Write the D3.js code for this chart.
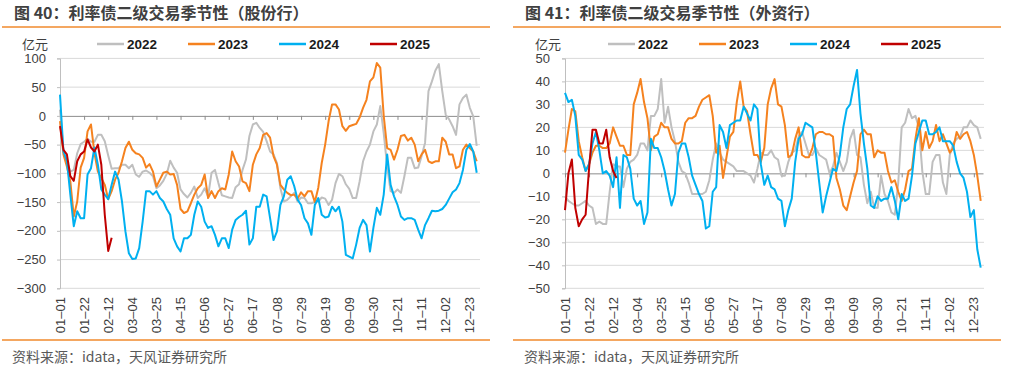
<!DOCTYPE html>
<html>
<head>
<meta charset="utf-8">
<script src="https://cdn.jsdelivr.net/npm/d3@7"></script>
<style>
  body { margin: 0; background: #fff; }
  svg { display: block; font-family: "Liberation Sans", Arial, "Noto Sans CJK SC", sans-serif; }
</style>
</head>
<body>
<svg width="1012" height="382"></svg>
<script>
// x categories: every 3rd day of the year (0 = 01-01)
var days = d3.range(0, 364, 3);
var tickLabels = ["01-01", "01-22", "02-12", "03-04", "03-25", "04-15", "05-06", "05-27", "06-17",
  "07-08", "07-29", "08-19", "09-09", "09-30", "10-21", "11-11", "12-02", "12-23"];
var years = ["2022", "2023", "2024", "2025"];
var colors = ["#BFBFBF", "#F5821F", "#00B0F0", "#C00000"];

// 股份行 (亿元)
var gfh2022 = [11, -62, -79, -97, -94, -65, -49, -45, -40, -45,
  -45, -33, -33, -44, -69, -92, -91, -91, -85, -85,
  -91, -85, -102, -106, -97, -95, -99, -105, -126, -121,
  -113, -101, -78, -90, -99, -128, -136, -142, -134, -123,
  -143, -137, -126, -140, -99, -94, -117, -138, -140, -142,
  -143, -124, -119, -94, -76, -35, -15, -12, -21, -28,
  -44, -62, -67, -82, -126, -149, -146, -140, -134, -149,
  -142, -143, -152, -152, -150, -149, -142, -144, -155, -146,
  -117, -101, -105, -119, -127, -143, -143, -114, -79, -62,
  -50, -27, -15, 17, -30, -88, -131, -134, -128, -134,
  -105, -73, -73, -91, -90, -70, -47, 43, 60, 79,
  90, 43, 2, -6, -18, -33, 20, 31, 37, 14,
  -1, -52];
var gfh2023 = [-9, -67, -88, -114, -175, -149, -90, -73, -27, -15,
  -65, -97, -108, -120, -145, -131, -111, -99, -79, -56,
  -45, -59, -65, -67, -73, -90, -84, -97, -123, -111,
  -99, -97, -102, -101, -120, -162, -169, -166, -152, -137,
  -126, -120, -102, -143, -131, -143, -131, -126, -128, -102,
  -62, -79, -88, -114, -117, -131, -85, -67, -56, -33,
  -30, -38, -70, -85, -120, -128, -134, -138, -137, -144,
  -133, -140, -131, -131, -150, -125, -82, -50, -9, 20,
  20, 11, -18, -26, -18, -16, -14, -3, 14, 28,
  60, 67, 92, 84, 0, -56, -59, -76, -59, -35,
  -33, -43, -38, -50, -79, -67, -59, -79, -82, -79,
  -79, -38, -45, -67, -67, -91, -88, -59, -50, -56,
  -62, -79];
var gfh2024 = [37, -62, -78, -137, -192, -166, -178, -178, -102, -91,
  -55, -85, -128, -137, -145, -120, -97, -111, -149, -201,
  -239, -249, -248, -230, -184, -131, -131, -137, -131, -143,
  -149, -162, -172, -213, -227, -236, -213, -213, -207, -172,
  -149, -158, -184, -195, -192, -207, -227, -213, -213, -230,
  -198, -181, -176, -172, -165, -224, -213, -158, -158, -137,
  -140, -178, -216, -201, -155, -140, -111, -105, -122, -146,
  -155, -178, -187, -207, -155, -143, -172, -177, -175, -158,
  -166, -158, -184, -242, -245, -248, -224, -195, -181, -190,
  -236, -195, -160, -172, -137, -67, -120, -140, -155, -175,
  -181, -178, -178, -181, -198, -213, -190, -178, -165, -166,
  -165, -162, -155, -144, -133, -128, -117, -94, -59, -49,
  -62, -99];
var gfh2025 = [-18, -59, -67, -105, -113, -79, -67, -62, -41, -55, -62, -50, -85, -172, -235, -212];

// 外资行 (亿元)
var wzh2022 = [-10, -12, -13, -14, -14, -13, -12, -14, -15, -22,
  -21, -22, -22, -8, 4, 3, 3, -6, 2, 5,
  6, 8, 13, 13, 10, 25, 25, 28, 41, 22,
  29, 20, 14, 5, 1, 0, -4, -9, -9, -9,
  -9, -8, -3, 6, 13, 9, 6, 5, 4, 3,
  1, 1, 1, 0, -1, -4, 2, 9, 8, 8,
  10, 7, 6, -1, -1, 5, 9, 10, 16, 18,
  13, 8, 8, 11, 8, 7, 6, 0, 3, 9,
  5, 1, 5, 15, 19, 8, 7, -5, -13, -8,
  -15, -15, -1, -9, -12, -17, -18, -4, 20, 22,
  28, 24, 25, 20, 1, -9, -9, 5, 8, 8,
  -4, -9, 8, 13, 15, 16, 20, 20, 23, 21,
  20, 15];
var wzh2023 = [9, 19, 28, 27, 14, 7, 1, 4, 9, 12,
  12, 11, 11, 13, 20, 16, 12, 12, 8, 8,
  30, 35, 41, 31, 24, 10, 16, 17, 22, 20,
  20, 15, 13, 13, 14, 22, 24, 24, 25, 29,
  32, 33, 34, 25, 9, 12, -2, 7, 16, 18,
  31, 40, 29, 27, 17, 8, 8, 5, 11, 30,
  37, 41, 30, 29, 21, 7, 8, 15, 20, 8,
  7, 7, 11, 17, 18, 18, 17, 17, 16, -2,
  -7, -14, -16, -10, -4, 1, 17, 19, 17, 17,
  7, 10, 9, 9, 1, -4, -3, -8, -12, -7,
  1, 2, 15, 24, 10, 18, 11, 14, 21, 14,
  17, 13, 9, 11, 18, 15, 17, 18, 14, 8,
  -1, -12];
var wzh2024 = [35, 31, 32, 25, 8, 6, 1, 4, 13, 18,
  10, 0, 1, -1, -6, 7, -15, 8, 7, 2,
  -11, -14, -12, -22, -17, 15, 11, 11, 7, 1,
  -7, -14, -9, 9, 13, 13, 7, -1, -5, -9,
  -12, -24, -23, -8, -6, 21, 18, 11, 21, 22,
  23, 23, 29, 26, 23, 30, 28, 4, -5, -1,
  -6, -7, -11, -12, -23, -16, -11, 5, 15, 17,
  22, 21, 20, 9, -4, -17, -10, -4, 2, 1,
  8, 20, 28, 30, 38, 45, 26, 13, 2, -14,
  -15, -10, -12, -11, -11, -6, -12, -20, -9, -12,
  -11, -1, 13, 18, 23, 23, 17, 17, 18, 20,
  14, 14, 14, 12, 5, 0, -2, -8, -19, -16,
  -33, -41];
var wzh2025 = [-16, 0, 6, -15, -23, -20, -18, 2, 19, 19, 13, 13, 19, 7, 1, -2];

var svg = d3.select("svg");

function drawPanel(p) {
  var x = d3.scaleLinear().domain([0, 365]).range([p.left, p.right]);
  var y = d3.scaleLinear().domain(p.domain).range([288.3, 58.4]);
  var g = svg.append("g");

  // title + orange rules
  svg.append("text").attr("x", p.titleX).attr("y", 18.5)
    .attr("font-family", "'Noto Sans CJK SC', sans-serif")
    .attr("font-size", "16px").attr("font-weight", "bold").attr("fill", "#404040")
    .text(p.title);
  [27, 340].forEach(function (yy) {
    svg.append("line").attr("x1", p.ruleX[0]).attr("x2", p.ruleX[1])
      .attr("y1", yy).attr("y2", yy).attr("stroke", "#F08A2C").attr("stroke-width", 1.5);
  });
  svg.append("text").attr("x", p.sourceX).attr("y", 362)
    .attr("font-family", "'Noto Sans CJK SC', sans-serif")
    .attr("font-size", "14px").attr("fill", "#595959")
    .text("资料来源：idata，天风证券研究所");

  // unit + legend
  svg.append("text").attr("x", p.unitX).attr("y", 49)
    .attr("font-family", "'Noto Sans CJK SC', sans-serif")
    .attr("font-size", "13px").attr("fill", "#404040").text("亿元");
  years.forEach(function (yr, i) {
    var lx = p.legendX + i * 91;
    svg.append("line").attr("x1", lx).attr("x2", lx + 27).attr("y1", 44).attr("y2", 44)
      .attr("stroke", colors[i]).attr("stroke-width", 2.5);
    svg.append("text").attr("x", lx + 30).attr("y", 49)
      .attr("font-size", "13.5px").attr("font-weight", "bold").attr("fill", "#1a1a1a").text(yr);
  });

  // gridlines
  var yTicks = d3.range(p.domain[0], p.domain[1] + 1, p.step);
  g.selectAll("line.grid").data(yTicks.filter(function (v) { return v !== 0; }))
    .join("line").attr("class", "grid")
    .attr("x1", p.left).attr("x2", p.right + 1)
    .attr("y1", function (d) { return y(d); }).attr("y2", function (d) { return y(d); })
    .attr("stroke", "#D9D9D9").attr("stroke-width", 1);

  // value axis
  var ya = g.append("g").attr("transform", "translate(" + p.left + ",0)")
    .call(d3.axisLeft(y).tickValues(yTicks).tickSize(3).tickPadding(p.pad));
  ya.select(".domain").attr("stroke", "#BFBFBF");
  ya.selectAll(".tick line").attr("stroke", "#BFBFBF");
  ya.selectAll(".tick text").attr("font-size", "13px").attr("fill", "#404040")
    .attr("font-family", "'Liberation Sans', Arial, sans-serif");

  // date axis on the zero line
  var tickDays = tickLabels.map(function (d, i) { return i * 21; });
  var xa = g.append("g").attr("transform", "translate(0," + y(0) + ")")
    .call(d3.axisBottom(x).tickValues(tickDays).tickSize(4).tickSizeOuter(0).tickFormat(""));
  xa.select(".domain").attr("stroke", "#8C8C8C");
  xa.selectAll(".tick line").attr("stroke", "#8C8C8C");

  // rotated date labels at the bottom
  g.selectAll("text.xl").data(tickLabels).join("text").attr("class", "xl")
    .attr("transform", function (d, i) { return "translate(" + x(tickDays[i]) + ",297) rotate(-90)"; })
    .attr("dy", "0.35em").attr("text-anchor", "end")
    .attr("font-size", "13px").attr("fill", "#404040")
    .text(function (d) { return d.replace("-", "\u2013"); });

  // series
  var line = d3.line()
    .x(function (d, i) { return x(days[i]); })
    .y(function (d) { return y(d); });
  p.series.forEach(function (s, i) {
    g.append("path").datum(s)
      .attr("fill", "none").attr("stroke", colors[i]).attr("stroke-width", 2)
      .attr("stroke-linejoin", "round").attr("d", line);
  });
}

drawPanel({
  title: "图 40：利率债二级交易季节性（股份行）", titleX: 14, ruleX: [2, 490], sourceX: 12,
  unitX: 22, legendX: 97, left: 60, right: 479, pad: 11,
  domain: [-300, 100], step: 50,
  series: [gfh2022, gfh2023, gfh2024, gfh2025]
});
drawPanel({
  title: "图 41：利率债二级交易季节性（外资行）", titleX: 525, ruleX: [513, 1001], sourceX: 524,
  unitX: 535, legendX: 608, left: 565, right: 983, pad: 12,
  domain: [-50, 50], step: 10,
  series: [wzh2022, wzh2023, wzh2024, wzh2025]
});
</script>
</body>
</html>
